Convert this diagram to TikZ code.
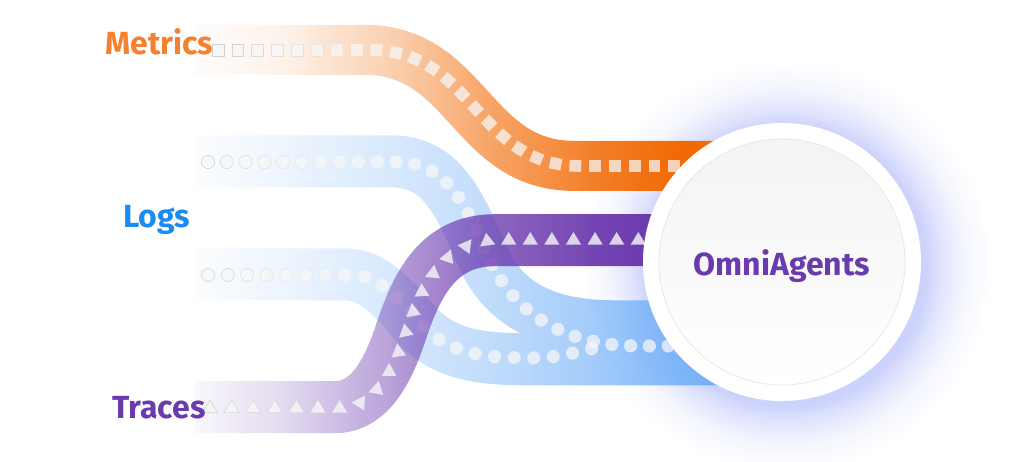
\documentclass[tikz,border=0pt]{standalone}
\usepackage{fontspec}
\setmainfont{Fira Sans}
\usetikzlibrary{decorations.markings,fadings}

\definecolor{cOrange}{HTML}{F26A05}
\definecolor{cBlue}{HTML}{72B0F8}
\definecolor{cPurple}{HTML}{6A38AE}
\definecolor{tOrange}{HTML}{F5812F}
\definecolor{tBlue}{HTML}{1A8AF5}
\definecolor{tPurple}{HTML}{6A3BAF}
\definecolor{haloc}{HTML}{CBD2FB}

\pgfdeclareradialshading{halo}{\pgfpointorigin}{color(0bp)=(haloc); color(16.2bp)=(haloc); color(18.4bp)=(haloc!55!white); color(21bp)=(haloc!18!white); color(24bp)=(white); color(50bp)=(white)}

% px -> bp : (x-200)/10.6-25 ; 300:-15.6 400:-6.1 480:1.4 580:10.8 660:18.4 700:22.2
\begin{tikzfadingfrompicture}[name=fadeO]
\fill[transparent!100] (-500bp,-500bp) rectangle (-24.9bp,500bp);
\shade[left color=transparent!100, right color=transparent!92] (-25bp,-500bp) rectangle (-15.5bp,500bp);
\shade[left color=transparent!92, right color=transparent!68] (-15.7bp,-500bp) rectangle (-6bp,500bp);
\shade[left color=transparent!68, right color=transparent!42] (-6.2bp,-500bp) rectangle (1.5bp,500bp);
\shade[left color=transparent!42, right color=transparent!15] (1.3bp,-500bp) rectangle (10.9bp,500bp);
\shade[left color=transparent!15, right color=transparent!0] (10.7bp,-500bp) rectangle (18.5bp,500bp);
\fill[transparent!0] (18.3bp,-500bp) rectangle (500bp,500bp);
\end{tikzfadingfrompicture}

\begin{tikzfadingfrompicture}[name=fadeP]
\fill[transparent!100] (-500bp,-500bp) rectangle (-24.9bp,500bp);
\shade[left color=transparent!100, right color=transparent!82] (-25bp,-500bp) rectangle (-15.5bp,500bp);
\shade[left color=transparent!82, right color=transparent!52] (-15.7bp,-500bp) rectangle (-6bp,500bp);
\shade[left color=transparent!52, right color=transparent!25] (-6.2bp,-500bp) rectangle (1.5bp,500bp);
\shade[left color=transparent!25, right color=transparent!7] (1.3bp,-500bp) rectangle (10.9bp,500bp);
\shade[left color=transparent!7, right color=transparent!0] (10.7bp,-500bp) rectangle (18.5bp,500bp);
\fill[transparent!0] (18.3bp,-500bp) rectangle (500bp,500bp);
\end{tikzfadingfrompicture}

\begin{tikzfadingfrompicture}[name=fadeB]
\fill[transparent!100] (-500bp,-500bp) rectangle (-24.9bp,500bp);
\shade[left color=transparent!100, right color=transparent!88] (-25bp,-500bp) rectangle (-15.5bp,500bp);
\shade[left color=transparent!88, right color=transparent!72] (-15.7bp,-500bp) rectangle (-6bp,500bp);
\shade[left color=transparent!72, right color=transparent!58] (-6.2bp,-500bp) rectangle (1.5bp,500bp);
\shade[left color=transparent!58, right color=transparent!36] (1.3bp,-500bp) rectangle (10.9bp,500bp);
\shade[left color=transparent!36, right color=transparent!12] (10.7bp,-500bp) rectangle (18.5bp,500bp);
\shade[left color=transparent!12, right color=transparent!0] (18.3bp,-500bp) rectangle (22.3bp,500bp);
\fill[transparent!0] (22.1bp,-500bp) rectangle (500bp,500bp);
\end{tikzfadingfrompicture}

\newcommand\mkprep[2]{%
  \pgfmathsetmacro\mkD{#1+(\pgfkeysvalueof{/pgf/decoration/mark info/sequence number}-1)*#2}%
  \pgfmathsetmacro\mkO{max(0,0.8*(1-\mkD/150))}}

\tikzset{
  mk/.style={fill=white!97!black, fill opacity=0.74, draw=black!25, line width=0.5pt},
  lbl/.style={font=\bfseries\fontsize{32}{38}\selectfont, inner sep=0pt},
  sqmarks/.style={postaction={decorate}, decoration={markings,
     mark=between positions 18pt and 1 step 19.8pt with {\mkprep{18}{19.8}%
       \filldraw[mk, draw opacity=\mkO] (-5.9pt,-5.9pt) rectangle (5.9pt,5.9pt);}}},
  dotmarksA/.style={postaction={decorate}, decoration={markings,
     mark=between positions 8pt and 1 step 18.8pt with {\mkprep{8}{18.8}%
       \filldraw[mk, draw opacity=\mkO] (0pt,0pt) circle (6.6pt);}}},
  dotmarksB/.style={postaction={decorate}, decoration={markings,
     mark=between positions 8pt and 1 step 19.6pt with {\mkprep{8}{19.6}%
       \filldraw[mk, draw opacity=\mkO] (0pt,0pt) circle (6.6pt);}}},
  trimarks/.style={postaction={decorate}, decoration={markings,
     mark=between positions 10pt and 1 step 21.6pt with {\mkprep{10}{21.6}%
       \pgfmathsetmacro\mkS{(\mkD>145 && \mkD<365) ? -1 : 1}%
       \filldraw[mk, fill opacity=0.8, draw opacity=\mkO] (-7.6pt,{(-4.6pt)*(\mkS)}) -- (7.6pt,{(-4.6pt)*(\mkS)}) -- (0pt,{(8pt)*(\mkS)}) -- cycle;}}},
}

\begin{document}
\begin{tikzpicture}[x=1pt,y=-1pt]
\useasboundingbox (0,0) rectangle (1024,462);
\fill[white] (0,0) rectangle (1024,462);

% halo behind the hub
\shade[shading=halo] (786,266) circle (215pt);

% Logs: two blue bands in one stroke
\draw[line width=52pt, color=cBlue, path fading=fadeB]
  (200,161) -- (395,161) .. controls (440,161) and (460,190) .. (485,250)
            .. controls (505,300) and (545,326) .. (620,326) -- (730,326)
  (200,274) -- (350,274) .. controls (380,274) and (400,300) .. (425,328)
            .. controls (450,352) and (480,359) .. (530,359) -- (730,359);
\path[dotmarksA] (200,162) -- (395,162) .. controls (440,162) and (460,190) .. (485,250)
            .. controls (510,310) and (560,346) .. (640,346) -- (730,346);
\path[dotmarksB] (200,275) -- (350,275) .. controls (380,275) and (400,300) .. (425,328)
            .. controls (450,352) and (480,358) .. (530,358) .. controls (560,358) and (575,352) .. (595,348);

% Traces: purple band
\draw[line width=52pt, color=cPurple, path fading=fadeP]
  (200,407) -- (340,407) .. controls (370,407) and (390,380) .. (405,335)
            .. controls (420,290) and (440,240) .. (500,240) -- (730,240);
\path[trimarks] (200,408) -- (340,408) .. controls (370,408) and (390,380) .. (405,335)
            .. controls (420,290) and (440,240) .. (500,240) -- (730,240);

% Metrics: orange band
\draw[line width=50pt, color=cOrange, path fading=fadeO]
  (200,50) -- (370,50) .. controls (474,50) and (476,166) .. (580,166) -- (730,166);
\path[sqmarks] (200,50) -- (370,50) .. controls (474,50) and (476,166) .. (580,166) -- (730,166);

% hub
\node[circle, fill=white, minimum size=278pt, inner sep=0pt] (hub) at (782,262) {};
\draw[draw=black!9, line width=0.8pt, top color=black!4.5, bottom color=white] (hub.center) circle (123pt);
\node[lbl, text=tPurple, anchor=base] (omni) at (782,275) {OmniAgents};

% labels
\node[lbl, text=tOrange, anchor=base west] (metrics) at (105,55) {Metrics};
\node[lbl, text=tBlue, anchor=base west] (logs) at (123,227) {Logs};
\node[lbl, text=tPurple, anchor=base west] (traces) at (112,418) {Traces};
\end{tikzpicture}
\end{document}
